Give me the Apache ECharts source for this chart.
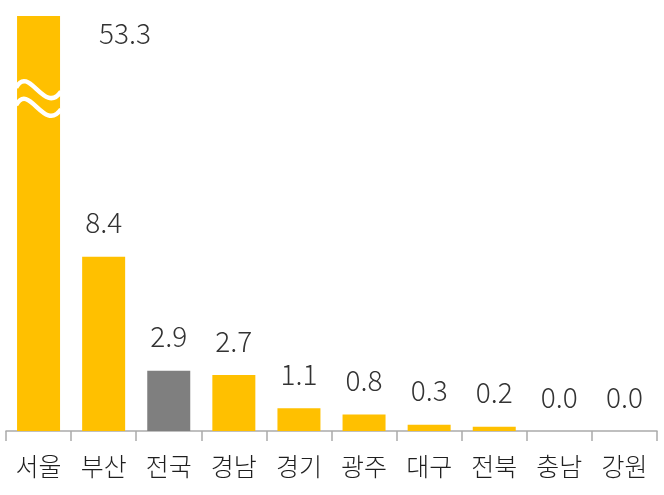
<!DOCTYPE html>
<html>
<head>
<meta charset="utf-8">
<script src="https://cdn.jsdelivr.net/npm/echarts@6/dist/echarts.min.js"></script>
<style>
  html, body { margin: 0; padding: 0; background: #fff; }
  #chart { width: 664px; height: 495px; }
</style>
</head>
<body>
<div id="chart"></div>
<script>
// 지역 / 값
const regions = ['서울', '부산', '전국', '경남', '경기', '광주', '대구', '전북', '충남', '강원'];
const values = [53.3, 8.4, 2.9, 2.7, 1.1, 0.8, 0.3, 0.2, 0.0, 0.0];
const highlight = '전국'; // 회색 막대
const axisMax = 20; // 서울은 축 위로 잘림 (물결 표시)

const FONT = '"Noto Sans CJK KR", "Noto Sans", sans-serif';
const YELLOW = '#FFC000';
const GRAY = '#7F7F7F';
const BAR_W = 43;

const chart = echarts.init(document.getElementById('chart'));

const seriesData = values.map(function(v, i) {
  const item = {
    value: v,
    itemStyle: { color: regions[i] === highlight ? GRAY : YELLOW }
  };
  if (v > axisMax) {
    // 잘린 막대의 라벨은 오른쪽으로
    item.label = { position: [82, 3] };
  }
  return item;
});

chart.setOption({
  animation: false,
  grid: { left: 6, right: 7, top: 16, bottom: 64 },
  xAxis: {
    type: 'category',
    data: regions,
    axisLine: { lineStyle: { color: '#ABABAB', width: 1.5 } },
    axisTick: { show: true, length: 10, lineStyle: { color: '#ABABAB', width: 1.5 } },
    axisLabel: {
      margin: 23,
      fontFamily: FONT,
      fontSize: 25,
      fontWeight: 300,
      color: '#1f1f1f'
    }
  },
  yAxis: {
    type: 'value',
    min: 0,
    max: axisMax,
    show: false,
    splitLine: { show: false }
  },
  series: [{
    type: 'bar',
    barWidth: BAR_W,
    clip: true,
    data: seriesData,
    label: {
      show: true,
      position: 'top',
      distance: 20,
      fontFamily: FONT,
      fontSize: 28,
      fontWeight: 300,
      color: '#333333',
      formatter: function(p) { return p.value.toFixed(1); }
    }
  }]
});

// 물결 (축 생략 표시)
function drawBreak() {
  const idx = values.findIndex(function(v) { return v > axisMax; });
  if (idx < 0) return;
  const graphics = [];
  [16.45, 15.6].forEach(function(yv) {
    const c = chart.convertToPixel({ gridIndex: 0 }, [regions[idx], yv]);
    const L = c[0] - BAR_W / 2 - 1;
    const R = c[0] + BAR_W / 2 + 1;
    const y = c[1];
    graphics.push({
      type: 'bezierCurve',
      shape: {
        x1: L, y1: y - 2,
        cpx1: L + 13, cpy1: y - 26,
        cpx2: L + 28, cpy2: y + 26,
        x2: R, y2: y + 2
      },
      style: { stroke: '#fff', lineWidth: 4.5, fill: null },
      z: 10
    });
  });
  chart.setOption({ graphic: graphics });
}
drawBreak();
</script>
</body>
</html>
